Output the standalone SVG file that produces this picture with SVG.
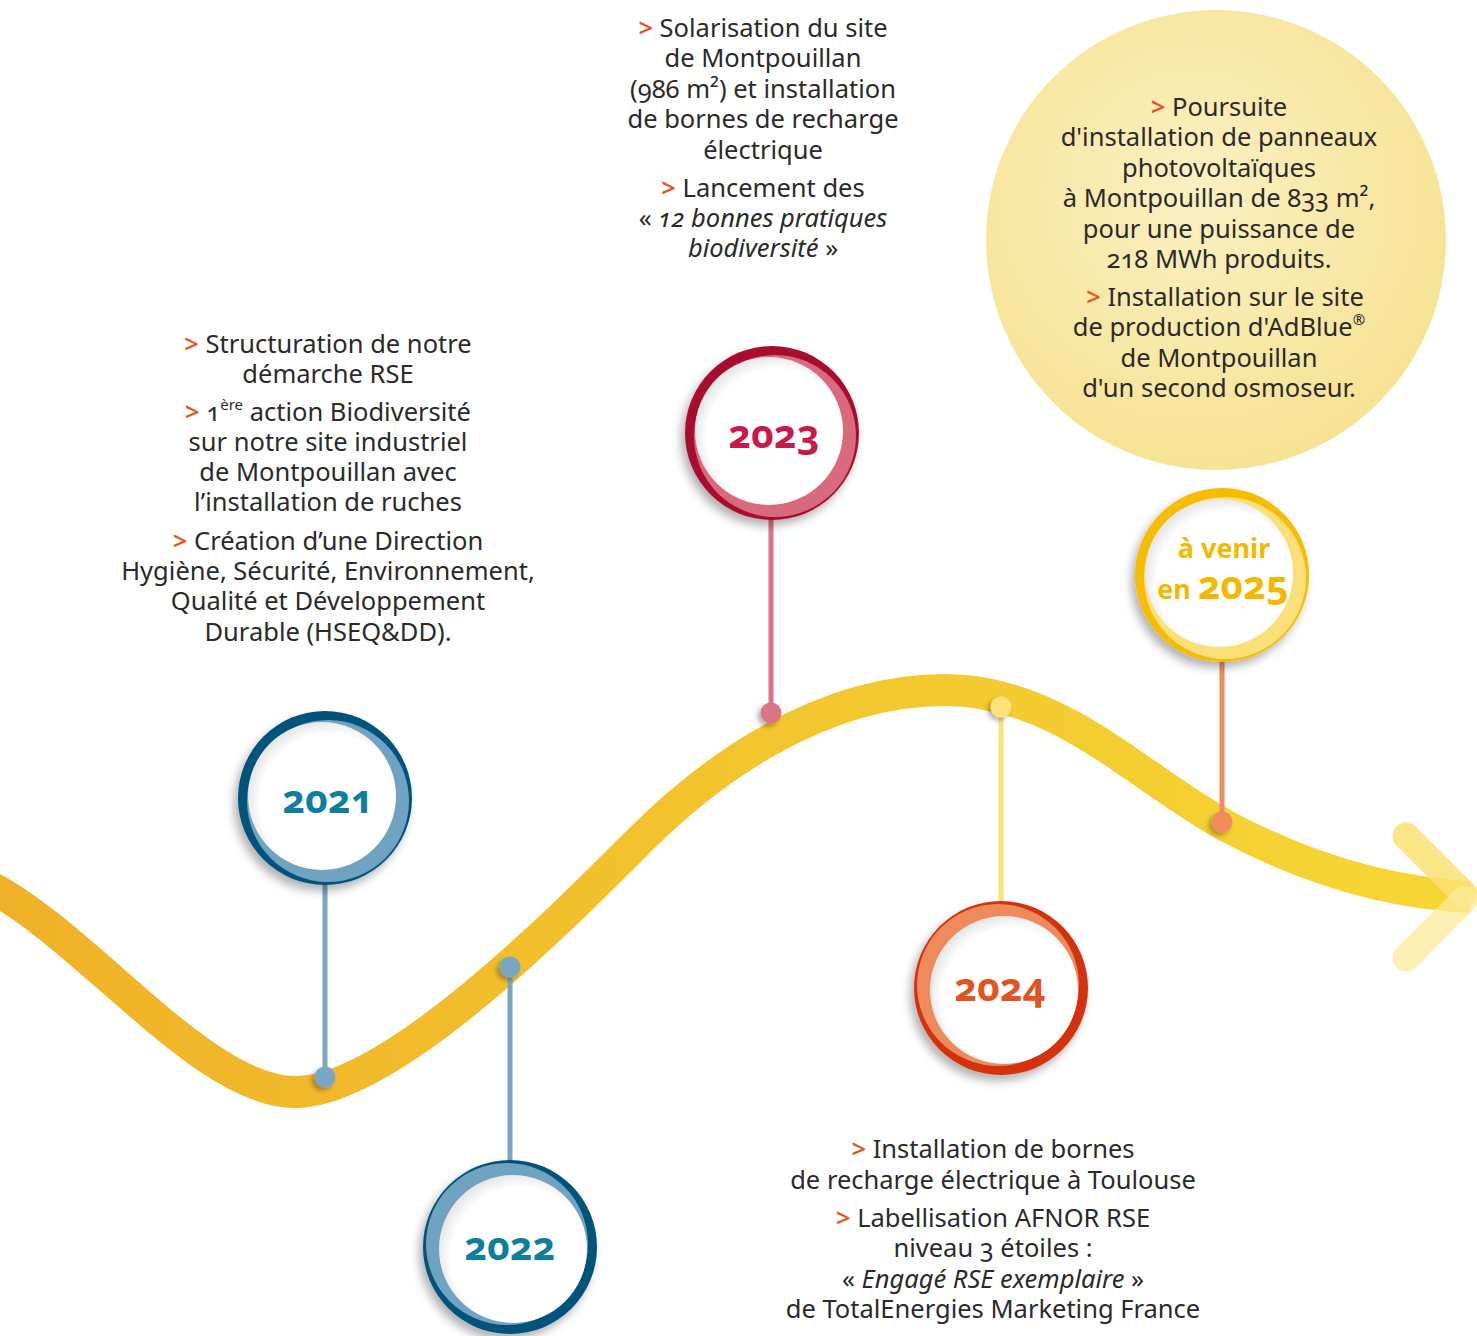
<svg xmlns="http://www.w3.org/2000/svg" width="1477" height="1336" viewBox="0 0 1477 1336">
<defs>
<linearGradient id="bandGrad" gradientUnits="userSpaceOnUse" x1="0" y1="0" x2="1477" y2="0">
<stop offset="0" stop-color="#F0B128"/>
<stop offset="0.5" stop-color="#F3C42E"/>
<stop offset="1" stop-color="#F6D735"/>
</linearGradient>
<radialGradient id="sunGrad" cx="0.45" cy="0.4" r="0.65">
<stop offset="0" stop-color="#FBF0C2"/>
<stop offset="1" stop-color="#F7E290"/>
</radialGradient>
<radialGradient id="whiteGrad" cx="0.55" cy="0.55" r="0.55">
<stop offset="0.85" stop-color="#FFFFFF"/>
<stop offset="1" stop-color="#E9E9E9"/>
</radialGradient>
<filter id="shadow" x="-30%" y="-30%" width="160%" height="160%">
<feDropShadow dx="-4" dy="6" stdDeviation="5" flood-color="#000" flood-opacity="0.3"/>
</filter>
<filter id="dotShadow" x="-60%" y="-60%" width="220%" height="220%">
<feDropShadow dx="-3" dy="3" stdDeviation="2.5" flood-color="#000" flood-opacity="0.3"/>
</filter>
</defs>
<style>
.t{font-family:"Noto Sans","Open Sans",sans-serif;font-size:25.5px;fill:#2A2A2A;text-anchor:middle;font-variant-numeric:oldstyle-nums;}
.g{fill:#E8561F;font-weight:600;}
.i{font-style:italic;}
.yr{font-family:"Noto Sans","Open Sans",sans-serif;font-weight:700;font-size:39px;text-anchor:middle;font-variant-numeric:oldstyle-nums;}
.sm{font-weight:700;font-size:27px;}
.stem{stroke-width:5;fill:none;}
</style>

<rect width="1477" height="1336" fill="#FFFFFF"/>

<g id="sun">
<circle cx="1216" cy="240" r="230" fill="url(#sunGrad)"/>
</g>

<g id="timeline">
<path d="M -20 882 C 80 927, 200 1092, 295 1092 C 390 1092, 560 920, 640 840 C 710 770, 820 690, 945 690 C 1060 690, 1140 780, 1230 828 C 1310 870, 1390 893, 1470 897" fill="none" stroke="url(#bandGrad)" stroke-width="32"/>
<line x1="1406" y1="836" x2="1464" y2="894" stroke="#FCE174" stroke-opacity="0.85" stroke-width="27" stroke-linecap="round"/>
<line x1="1406" y1="958" x2="1464" y2="900" stroke="#FDE99A" stroke-opacity="0.75" stroke-width="27" stroke-linecap="round"/>
</g>

<g id="connectors">
<line class="stem" x1="325" y1="880" x2="325" y2="1077" stroke="#79A7C3"/>
<line class="stem" x1="510" y1="967" x2="510" y2="1165" stroke="#79A7C3"/>
<line class="stem" x1="771" y1="515" x2="771" y2="713" stroke="#DB7585"/>
<line class="stem" x1="1001" y1="707" x2="1001" y2="905" stroke="#FBE27A"/>
<line class="stem" x1="1222" y1="655" x2="1222" y2="822" stroke="#EC8E65"/>
<circle cx="325" cy="1077" r="10.5" fill="#79A7C3" filter="url(#dotShadow)"/>
<circle cx="510" cy="967" r="10.5" fill="#79A7C3" filter="url(#dotShadow)"/>
<circle cx="771" cy="713" r="10.5" fill="#DB7585" filter="url(#dotShadow)"/>
<circle cx="1001" cy="707" r="10.5" fill="#FBE27A" filter="url(#dotShadow)"/>
<circle cx="1222" cy="822" r="10.5" fill="#EE8C5F" filter="url(#dotShadow)"/>
</g>

<g id="node-2021">
<g filter="url(#shadow)">
<circle cx="325" cy="798" r="87" fill="#06527A"/>
<circle cx="328" cy="801" r="81" fill="#6FA3C2"/>
<circle cx="322" cy="796" r="74" fill="url(#whiteGrad)"/>
</g>
<text class="yr" x="328" y="813" fill="#0E7E9F">2021</text>
</g>

<g id="node-2022">
<g filter="url(#shadow)">
<circle cx="510" cy="1247" r="87" fill="#06527A"/>
<circle cx="507" cy="1244" r="81" fill="#6FA3C2"/>
<circle cx="513" cy="1249" r="74" fill="url(#whiteGrad)"/>
</g>
<text class="yr" x="510" y="1260" fill="#0E7E9F">2022</text>
</g>

<g id="node-2023">
<g filter="url(#shadow)">
<circle cx="772" cy="433" r="87" fill="#A80F2F"/>
<circle cx="775" cy="436" r="81" fill="#D96B7E"/>
<circle cx="769" cy="431" r="74" fill="url(#whiteGrad)"/>
</g>
<text class="yr" x="774" y="448" fill="#C8194D">2023</text>
</g>

<g id="node-2024">
<g filter="url(#shadow)">
<circle cx="1001" cy="988" r="87" fill="#D3300B"/>
<circle cx="998" cy="985" r="81" fill="#EE8A5C"/>
<circle cx="1004" cy="990" r="74" fill="url(#whiteGrad)"/>
</g>
<text class="yr" x="1000" y="1001" fill="#E2541F">2024</text>
</g>

<g id="node-2025">
<g filter="url(#shadow)">
<circle cx="1222" cy="575" r="87" fill="#F6BC00"/>
<circle cx="1225" cy="578" r="81" fill="#FBE07A"/>
<circle cx="1219" cy="573" r="74" fill="url(#whiteGrad)"/>
</g>
<text class="yr sm" x="1224" y="558" fill="#F5B800">à venir</text>
<text class="yr" x="1223" y="599" fill="#F5B800"><tspan class="sm">en </tspan>2025</text>
</g>

<g id="text-2021">
<text class="t" x="328" y="353"><tspan class="g">&gt;</tspan> Structuration de notre</text>
<text class="t" x="328" y="383">démarche RSE</text>
<text class="t" x="328" y="421"><tspan class="g">&gt;</tspan> 1<tspan font-size="15" dy="-11">ère</tspan><tspan dy="11"> action Biodiversité</tspan></text>
<text class="t" x="328" y="451">sur notre site industriel</text>
<text class="t" x="328" y="481">de Montpouillan avec</text>
<text class="t" x="328" y="511">l’installation de ruches</text>
<text class="t" x="328" y="550"><tspan class="g">&gt;</tspan> Création d’une Direction</text>
<text class="t" x="328" y="580">Hygiène, Sécurité, Environnement,</text>
<text class="t" x="328" y="610">Qualité et Développement</text>
<text class="t" x="328" y="641">Durable (HSEQ&amp;DD).</text>
</g>

<g id="text-2023">
<text class="t" x="763" y="37"><tspan class="g">&gt;</tspan> Solarisation du site</text>
<text class="t" x="763" y="67">de Montpouillan</text>
<text class="t" x="763" y="98">(986 m²) et installation</text>
<text class="t" x="763" y="128">de bornes de recharge</text>
<text class="t" x="763" y="159">électrique</text>
<text class="t" x="763" y="197"><tspan class="g">&gt;</tspan> Lancement des</text>
<text class="t" x="763" y="227">« <tspan class="i">12 bonnes pratiques</tspan></text>
<text class="t" x="763" y="257"><tspan class="i">biodiversité</tspan> »</text>
</g>

<g id="text-2025">
<text class="t" x="1219" y="116"><tspan class="g">&gt;</tspan> Poursuite</text>
<text class="t" x="1219" y="146">d'installation de panneaux</text>
<text class="t" x="1219" y="177">photovoltaïques</text>
<text class="t" x="1219" y="207">à Montpouillan de 833 m²,</text>
<text class="t" x="1219" y="238">pour une puissance de</text>
<text class="t" x="1219" y="268">218 MWh produits.</text>
<text class="t" x="1225" y="306"><tspan class="g">&gt;</tspan> Installation sur le site</text>
<text class="t" x="1219" y="336">de production d'AdBlue<tspan font-size="15" dy="-11">®</tspan></text>
<text class="t" x="1219" y="367">de Montpouillan</text>
<text class="t" x="1219" y="397">d'un second osmoseur.</text>
</g>

<g id="text-2024">
<text class="t" x="993" y="1158"><tspan class="g">&gt;</tspan> Installation de bornes</text>
<text class="t" x="993" y="1189">de recharge électrique à Toulouse</text>
<text class="t" x="993" y="1227"><tspan class="g">&gt;</tspan> Labellisation AFNOR RSE</text>
<text class="t" x="993" y="1257">niveau 3 étoiles :</text>
<text class="t" x="993" y="1288">« <tspan class="i">Engagé RSE exemplaire</tspan> »</text>
<text class="t" x="993" y="1318">de TotalEnergies Marketing France</text>
</g>
</svg>
